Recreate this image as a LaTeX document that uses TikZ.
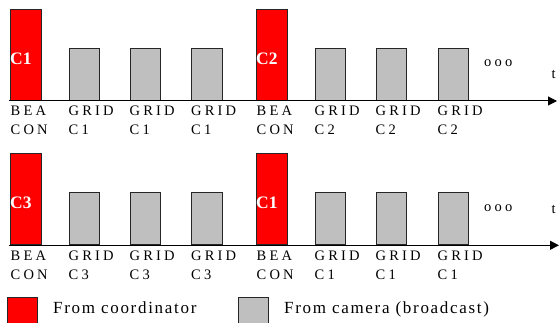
\documentclass[tikz,border=0pt]{standalone}
\usepackage{fontspec}
\setmainfont{Liberation Serif}
\usetikzlibrary{arrows.meta}
\tikzset{
beacon/.style={draw=black!85, line width=.8pt, fill=red, minimum width=30.5pt, minimum height=91.5pt, inner sep=0, anchor=south west}, % slots sent by the coordinator
grid/.style={draw=black!85, line width=.8pt, fill=gray!50, minimum width=30.5pt, minimum height=52pt, inner sep=0, anchor=south west}, % slots sent by the cameras
key/.style={draw=black!85, line width=.8pt, inner sep=0},
slotname/.style={white, anchor=west, inner sep=0, yshift=-4pt, font=\fontsize{17.5}{20}\selectfont\bfseries},
slotlabel/.style={anchor=base west, align=left, inner sep=0, font=\fontsize{14.5}{19}\selectfont\addfontfeatures{LetterSpace=22}},
keytext/.style={anchor=base west, inner sep=0, font=\fontsize{17}{20}\selectfont\addfontfeatures{LetterSpace=10}},
timeaxis/.style={line width=1pt, -{Triangle[length=9pt,width=9pt]}},
}
\begin{document}
\begin{tikzpicture}[x=1pt, y=-1pt]
    \useasboundingbox (0,0) rectangle (560,323);
    % first superframe
    \coordinate (t1s) at (9,101);
    \coordinate (t1e) at (557,101);
    \node[beacon, label={[slotname]west:C1}] at (10,101) (b1) {};
    \node[grid] at (68.5,101) (g1) {};
    \node[grid] at (129.5,101) (g2) {};
    \node[grid] at (191,101) (g3) {};
    \node[beacon, label={[slotname]west:C2}] at (256,101) (b2) {};
    \node[grid] at (314.5,101) (g4) {};
    \node[grid] at (375.5,101) (g5) {};
    \node[grid] at (437.5,101) (g6) {};
    % two-line labels sit on the baseline of their last line
    \node[slotlabel] at (10.5,135) (lb1) {BEA\\CON};
    \node[slotlabel] at (68.5,135) (lg1) {GRID\\C1};
    \node[slotlabel] at (129.5,135) (lg2) {GRID\\C1};
    \node[slotlabel] at (191,135) (lg3) {GRID\\C1};
    \node[slotlabel] at (256.5,135) (lb2) {BEA\\CON};
    \node[slotlabel] at (314.5,135) (lg4) {GRID\\C2};
    \node[slotlabel] at (375.5,135) (lg5) {GRID\\C2};
    \node[slotlabel] at (437.5,135) (lg6) {GRID\\C2};
    \node[slotlabel] at (484,66.7) (more1) {ooo};
    \node[slotlabel] at (551.5,78.3) (time1) {t};
    % second superframe
    \coordinate (t2s) at (9,245.3);
    \coordinate (t2e) at (559,245.3);
    \node[beacon, label={[slotname]west:C3}] at (10,245.3) (b3) {};
    \node[grid] at (68.5,245.3) (g7) {};
    \node[grid] at (129.5,245.3) (g8) {};
    \node[grid] at (191,245.3) (g9) {};
    \node[beacon, label={[slotname]west:C1}] at (256,245.3) (b4) {};
    \node[grid] at (314.5,245.3) (g10) {};
    \node[grid] at (375.5,245.3) (g11) {};
    \node[grid] at (437.5,245.3) (g12) {};
    \node[slotlabel] at (10.5,279.5) (lb3) {BEA\\CON};
    \node[slotlabel] at (68.5,279.5) (lg7) {GRID\\C3};
    \node[slotlabel] at (129.5,279.5) (lg8) {GRID\\C3};
    \node[slotlabel] at (191,279.5) (lg9) {GRID\\C3};
    \node[slotlabel] at (256.5,279.5) (lb4) {BEA\\CON};
    \node[slotlabel] at (314.5,279.5) (lg10) {GRID\\C1};
    \node[slotlabel] at (375.5,279.5) (lg11) {GRID\\C1};
    \node[slotlabel] at (437.5,279.5) (lg12) {GRID\\C1};
    \node[slotlabel] at (484,211.7) (more2) {ooo};
    \node[slotlabel] at (551.5,214) (time2) {t};
    % legend
    \node[key, fill=red, minimum width=30pt, minimum height=28pt, anchor=north west] at (7,297.3) (kr) {};
    \node[keytext] at (53,313.7) (kred) {From coordinator};
    \node[key, fill=gray!50, minimum width=30.5pt, minimum height=28pt, anchor=north west] at (237.7,297.3) (kg) {};
    \node[keytext] at (284,313.7) (kgray) {From camera (broadcast)};
    \draw[timeaxis] (t1s) -- (t1e);
    \draw[timeaxis] (t2s) -- (t2e);
\end{tikzpicture}
\end{document}
